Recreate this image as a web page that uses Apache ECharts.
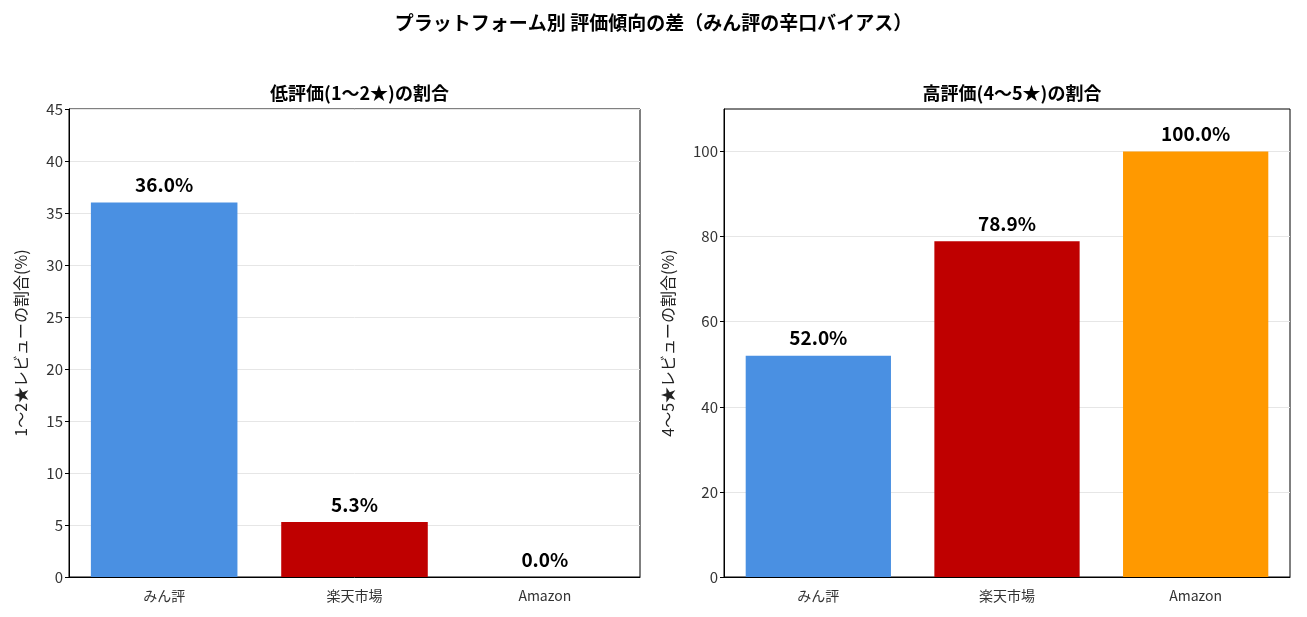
<!DOCTYPE html>
<html>
<head>
<meta charset="utf-8">
<script src="https://cdn.jsdelivr.net/npm/echarts@6/dist/echarts.min.js"></script>
<style>
  html, body { margin: 0; padding: 0; background: #fff; }
  #chart { width: 1307px; height: 617px; }
</style>
</head>
<body>
<div id="chart"></div>
<script>
const platforms = ['みん評', '楽天市場', 'Amazon']
const lowRatio = [36.0, 5.3, 0.0]
const highRatio = [52.0, 78.9, 100.0]
const lowTicks = [0, 5, 10, 15, 20, 25, 30, 35, 40, 45]
const highTicks = [0, 20, 40, 60, 80, 100]
const barColors = ['#4a90e2', '#bf0000', '#ff9900']

const FONT = '"Noto Sans CJK JP", "Noto Sans", sans-serif'

function toItems(values) {
  return values.map((v, i) => ({ value: v, itemStyle: { color: barColors[i] } }))
}

function xAxisFor(gridIndex) {
  return {
    type: 'category',
    gridIndex,
    data: platforms,
    axisLine: { lineStyle: { color: '#000', width: 1 } },
    axisTick: { alignWithLabel: true, length: 4, lineStyle: { color: '#000' } },
    axisLabel: { color: '#333', fontSize: 14, fontFamily: FONT, margin: 12 },
    splitLine: { show: false },
    z: 5
  }
}

function yAxisFor(gridIndex, max, ticks, name, gap) {
  return {
    type: 'value',
    gridIndex,
    min: 0,
    max,
    name,
    nameLocation: 'middle',
    nameRotate: 90,
    nameGap: gap,
    nameTextStyle: { color: '#222', fontSize: 16, fontFamily: FONT },
    axisLine: { show: true, lineStyle: { color: '#000', width: 1 } },
    axisTick: { show: true, length: 4, customValues: ticks, lineStyle: { color: '#000' } },
    axisLabel: { color: '#333', fontSize: 15, fontFamily: FONT, margin: 6, customValues: ticks },
    splitLine: { show: true, lineStyle: { color: '#e6e6e6', width: 1 } }
  }
}

function barSeries(idx, values) {
  return {
    type: 'bar',
    xAxisIndex: idx,
    yAxisIndex: idx,
    data: toItems(values),
    barWidth: '77%',
    itemStyle: { borderWidth: 0 },
    label: {
      show: true,
      position: 'top',
      distance: 8,
      color: '#000',
      fontSize: 19,
      fontWeight: 'bold',
      fontFamily: FONT,
      formatter: (p) => p.value.toFixed(1) + '%'
    }
  }
}

const chart = echarts.init(document.getElementById('chart'), null, { renderer: 'canvas' })
chart.setOption({
  animation: false,
  title: [
    {
      text: 'プラットフォーム別 評価傾向の差（みん評の辛口バイアス）',
      left: 'center',
      top: 8,
      textStyle: { fontSize: 19, fontWeight: 'bold', color: '#000', fontFamily: FONT }
    },
    {
      text: '低評価(1〜2★)の割合',
      left: 354.5,
      textAlign: 'center',
      top: 79,
      textStyle: { fontSize: 18, fontWeight: 'bold', color: '#000', fontFamily: FONT }
    },
    {
      text: '高評価(4〜5★)の割合',
      left: 1007,
      textAlign: 'center',
      top: 79,
      textStyle: { fontSize: 18, fontWeight: 'bold', color: '#000', fontFamily: FONT }
    }
  ],
  grid: [
    { left: 69, right: 667, top: 109, bottom: 40, show: true, borderColor: '#000', borderWidth: 1 },
    { left: 724, right: 17, top: 109, bottom: 40, show: true, borderColor: '#000', borderWidth: 1 }
  ],
  xAxis: [xAxisFor(0), xAxisFor(1)],
  yAxis: [
    yAxisFor(0, 45, lowTicks, '1〜2★レビューの割合(%)', 40),
    yAxisFor(1, 110, highTicks, '4〜5★レビューの割合(%)', 48)
  ],
  series: [barSeries(0, lowRatio), barSeries(1, highRatio)]
})
</script>
</body>
</html>
